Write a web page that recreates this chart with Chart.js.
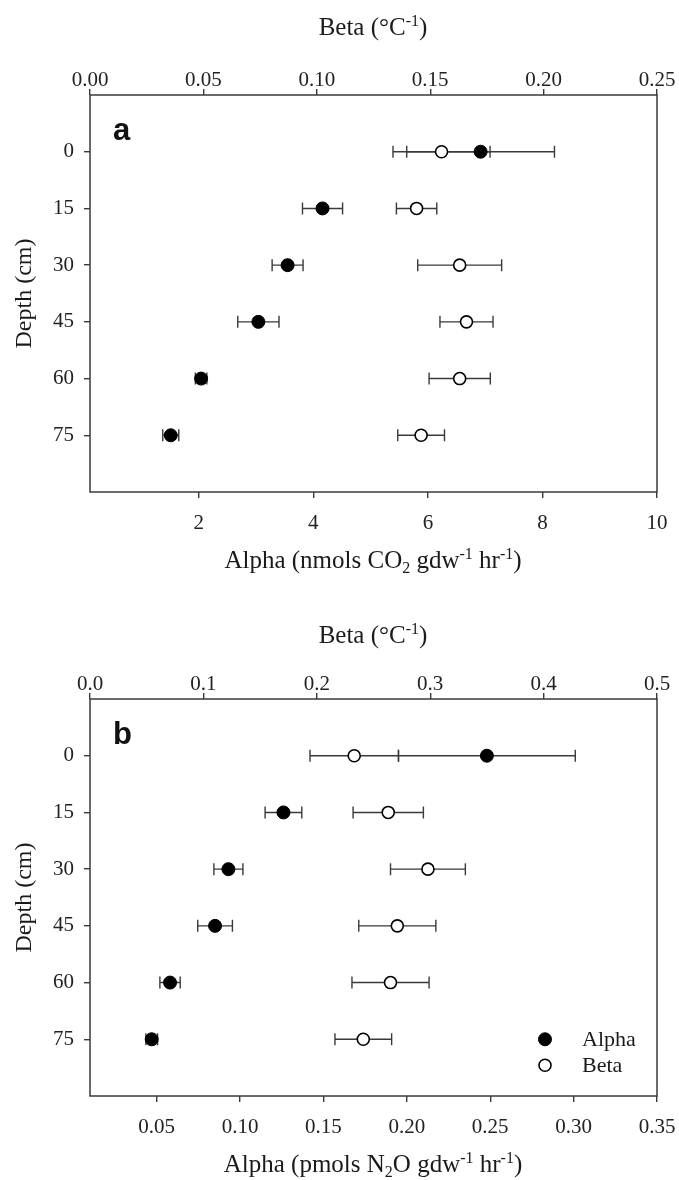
<!DOCTYPE html>
<html>
<head>
<meta charset="utf-8">
<script src="https://cdn.jsdelivr.net/npm/chart.js@4.4.1/dist/chart.umd.min.js"></script>
<style>
    body { margin: 0; background: #fff; }
    #wrap { position: relative; width: 679px; height: 1180px; }
    canvas { position: absolute; left: 0; }
</style>
</head>
<body>
<div id="wrap">
    <canvas id="chart_a" width="679" height="600" style="top:0px"></canvas>
    <canvas id="chart_b" width="679" height="580" style="top:600px"></canvas>
</div>
<script>
// depth rows (cm), shared by both panels
const depths = [0, 15, 30, 45, 60, 75];

// panel a - CO2
const alpha_co2 = [6.92, 4.16, 3.55, 3.04, 2.04, 1.51];
const alpha_co2_err = [1.29, 0.35, 0.27, 0.36, 0.10, 0.14];
const beta_co2 = [0.155, 0.144, 0.163, 0.166, 0.163, 0.146];
const beta_co2_err = [0.0214, 0.0089, 0.0185, 0.0117, 0.0135, 0.0103];
const alpha_co2_ticks = [2, 4, 6, 8, 10];
const beta_co2_ticks = [0, 0.05, 0.10, 0.15, 0.20, 0.25];

// panel b - N2O
const alpha_n2o = [0.248, 0.126, 0.093, 0.085, 0.058, 0.047];
const alpha_n2o_err = [0.053, 0.011, 0.0087, 0.0104, 0.0061, 0.0035];
const beta_n2o = [0.233, 0.263, 0.298, 0.271, 0.265, 0.241];
const beta_n2o_err = [0.039, 0.031, 0.033, 0.034, 0.034, 0.025];
const alpha_n2o_ticks = [0.05, 0.10, 0.15, 0.20, 0.25, 0.30, 0.35];
const beta_n2o_ticks = [0, 0.1, 0.2, 0.3, 0.4, 0.5];

const SERIF = '"Liberation Serif", "Times New Roman", serif';
const LINE = '#3a3a3a';


function draw_rich(ctx, parts, x, y, size){
    // draws text with sub/superscripts, centred on x, baseline y
    const small = Math.round(size * 0.62);
    let total = 0;
    parts.forEach(p => {
        ctx.font = (p[1] ? small : size) + 'px ' + SERIF;
        total += ctx.measureText(p[0]).width;
    });
    let cx = x - total / 2;
    ctx.textAlign = 'left';
    ctx.textBaseline = 'alphabetic';
    parts.forEach(p => {
        ctx.font = (p[1] ? small : size) + 'px ' + SERIF;
        let dy = 0;
        if (p[1] == 'sup') dy = -size * 0.36;
        if (p[1] == 'sub') dy = size * 0.2;
        ctx.fillText(p[0], cx, y + dy);
        cx += ctx.measureText(p[0]).width;
    });
}


const error_bars = {
    id: 'error_bars',
    beforeDatasetsDraw(chart){
        const ctx = chart.ctx;
        ctx.save();
        ctx.strokeStyle = LINE;
        ctx.lineWidth = 1.4;
        chart.data.datasets.forEach(ds => {
            const xs = chart.scales[ds.xAxisID];
            const ys = chart.scales[ds.yAxisID];
            ds.data.forEach((pt, i) => {
                const y = ys.getPixelForValue(pt.y);
                const x0 = xs.getPixelForValue(pt.x - ds.errors[i]);
                const x1 = xs.getPixelForValue(pt.x + ds.errors[i]);
                ctx.beginPath();
                ctx.moveTo(x0, y); ctx.lineTo(x1, y);
                ctx.moveTo(x0, y - 6); ctx.lineTo(x0, y + 6);
                ctx.moveTo(x1, y - 6); ctx.lineTo(x1, y + 6);
                ctx.stroke();
            });
        });
        ctx.restore();
    }
};


function axis_opts(position, ticks, fmt, min, max, size_fn, padding){
    return {
        type: 'linear',
        position: position,
        reverse: position == 'left',
        min: min,
        max: max,
        afterBuildTicks: s => { s.ticks = ticks.map(v => ({value: v})); },
        afterFit: s => {
            size_fn(s);
            // keep the end labels from shrinking the plot box
            s.paddingLeft = 0;
            s.paddingRight = 0;
            s.paddingTop = 0;
            s.paddingBottom = 0;
        },
        ticks: {
            callback: v => fmt(v),
            font: {family: SERIF, size: 21},
            color: '#222',
            padding: padding,
            maxRotation: 0,
            autoSkip: false
        },
        grid: {
            drawOnChartArea: false,
            drawTicks: true,
            tickLength: 6,
            color: LINE,
            lineWidth: 1.4
        },
        border: {display: false}
    };
}


function make_panel(canvas_id, cfg){
    const ctx = document.getElementById(canvas_id).getContext('2d');
    const h = document.getElementById(canvas_id).height;

    const decor = {
        id: 'decor_' + canvas_id,
        afterDatasetsDraw(chart){
            const c = chart.ctx;
            const area = chart.chartArea;
            c.save();
            // frame
            c.strokeStyle = LINE;
            c.lineWidth = 1.5;
            c.strokeRect(area.left, area.top, area.right - area.left, area.bottom - area.top);

            c.fillStyle = '#1a1a1a';
            draw_rich(c, [['Beta (\u00B0C'], ['-1', 'sup'], [')']], 373, cfg.top_title_y, 25);
            draw_rich(c, cfg.bottom_title, 373, cfg.bottom_title_y, 25);

            c.save();
            c.translate(31, (area.top + area.bottom) / 2);
            c.rotate(-Math.PI / 2);
            c.font = '24px ' + SERIF;
            c.textAlign = 'center';
            c.textBaseline = 'alphabetic';
            c.fillText('Depth (cm)', 0, 0);
            c.restore();

            // panel letter
            c.font = 'bold 31px "Liberation Sans", Arial, sans-serif';
            c.textAlign = 'left';
            c.fillStyle = '#111';
            c.fillText(cfg.letter, area.left + 23, area.top + 45);

            if (cfg.legend){
                const ys = chart.scales.y;
                const lx = area.right - 112;
                const ly = ys.getPixelForValue(75);
                chart.data.datasets.forEach((ds, i) => {
                    const yy = ly + i * 26;
                    c.beginPath();
                    c.arc(lx, yy, ds.pointRadius, 0, Math.PI * 2);
                    c.fillStyle = ds.pointBackgroundColor;
                    c.fill();
                    c.lineWidth = ds.pointBorderWidth;
                    c.strokeStyle = ds.pointBorderColor;
                    c.stroke();
                    c.fillStyle = '#1a1a1a';
                    c.font = '22px ' + SERIF;
                    c.textBaseline = 'middle';
                    c.fillText(ds.label, lx + 37, yy + 1);
                });
            }
            c.restore();
        }
    };

    return new Chart(ctx, {
        type: 'scatter',
        data: {
            datasets: [
                {
                    label: 'Alpha',
                    data: depths.map((d, i) => ({x: cfg.alpha[i], y: d})),
                    errors: cfg.alpha_err,
                    xAxisID: 'x',
                    yAxisID: 'y',
                    pointRadius: 6.5,
                    pointHoverRadius: 6.5,
                    pointBackgroundColor: '#000',
                    pointBorderColor: '#000',
                    pointBorderWidth: 1
                },
                {
                    label: 'Beta',
                    data: depths.map((d, i) => ({x: cfg.beta[i], y: d})),
                    errors: cfg.beta_err,
                    xAxisID: 'x2',
                    yAxisID: 'y',
                    pointRadius: 6,
                    pointHoverRadius: 6,
                    pointBackgroundColor: '#fff',
                    pointBorderColor: '#000',
                    pointBorderWidth: 1.6
                }
            ]
        },
        options: {
            responsive: false,
            animation: false,
            events: [],
            layout: {padding: {left: 0, right: 22, top: 0, bottom: 0}},
            plugins: {
                legend: {display: false},
                tooltip: {enabled: false}
            },
            scales: {
                x: axis_opts('bottom', cfg.alpha_ticks, cfg.alpha_fmt, cfg.alpha_min, cfg.alpha_max,
                             s => { s.height = h - cfg.bottom; }, 13),
                x2: axis_opts('top', cfg.beta_ticks, cfg.beta_fmt, 0, cfg.beta_max,
                              s => { s.height = cfg.top; }, -4),
                y: axis_opts('left', depths, v => String(v), -15, 90,
                             s => { s.width = 90; }, 10)
            }
        },
        plugins: [error_bars, decor]
    });
}


make_panel('chart_a', {
    letter: 'a',
    alpha: alpha_co2, alpha_err: alpha_co2_err,
    beta: beta_co2, beta_err: beta_co2_err,
    alpha_ticks: alpha_co2_ticks, beta_ticks: beta_co2_ticks,
    alpha_min: 0.1, alpha_max: 10, beta_max: 0.25,
    alpha_fmt: v => String(v), beta_fmt: v => v.toFixed(2),
    top: 95, bottom: 492,
    top_title_y: 35, bottom_title_y: 568,
    bottom_title: [['Alpha (nmols CO'], ['2', 'sub'], [' gdw'], ['-1', 'sup'], [' hr'], ['-1', 'sup'], [')']],
    legend: false
});

make_panel('chart_b', {
    letter: 'b',
    alpha: alpha_n2o, alpha_err: alpha_n2o_err,
    beta: beta_n2o, beta_err: beta_n2o_err,
    alpha_ticks: alpha_n2o_ticks, beta_ticks: beta_n2o_ticks,
    alpha_min: 0.01, alpha_max: 0.35, beta_max: 0.5,
    alpha_fmt: v => v.toFixed(2), beta_fmt: v => v.toFixed(1),
    top: 99, bottom: 496,
    top_title_y: 43, bottom_title_y: 572,
    bottom_title: [['Alpha (pmols N'], ['2', 'sub'], ['O gdw'], ['-1', 'sup'], [' hr'], ['-1', 'sup'], [')']],
    legend: true
});
</script>
</body>
</html>
